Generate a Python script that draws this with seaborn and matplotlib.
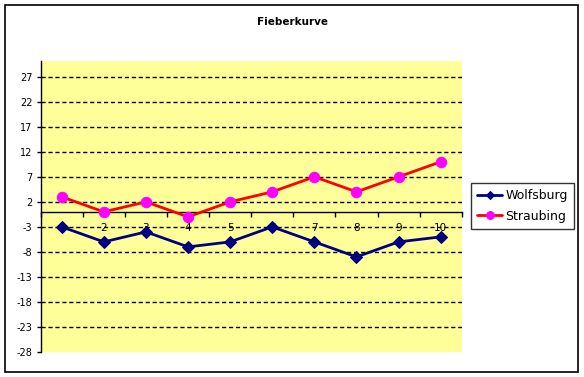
import matplotlib
matplotlib.use('Agg')
import matplotlib.pyplot as plt
import numpy as np
import pandas as pd
import seaborn as sns
from matplotlib.patches import Rectangle

sns.set_style('white')
plt.rcParams['font.family'] = ['DejaVu Sans']
plt.rcParams['text.color'] = 'black'
plt.rcParams['xtick.color'] = 'black'
plt.rcParams['ytick.color'] = 'black'

DAYS = [1, 2, 3, 4, 5, 6, 7, 8, 9, 10]
WOLFSBURG = [-3, -6, -4, -7, -6, -3, -6, -9, -6, -5]
STRAUBING = [3, 0, 2, -1, 2, 4, 7, 4, 7, 10]
Y_TICKS = [-28, -23, -18, -13, -8, -3, 2, 7, 12, 17, 22, 27]

W, H = 584, 377
fig = plt.figure(figsize=(W / 100, H / 100), dpi=100)
ax = fig.add_axes([40.7 / W, (H - 352) / H, 421 / W, 291.3 / H])
ax.set_facecolor('#FFFF99')

df = pd.DataFrame({'day': DAYS, 'Wolfsburg': WOLFSBURG, 'Straubing': STRAUBING})

sns.lineplot(data=df, x='day', y='Wolfsburg', ax=ax, color='#000080', lw=2,
             marker='D', markersize=6, markerfacecolor='#000080',
             markeredgecolor='#000080', label='Wolfsburg', zorder=5)
sns.lineplot(data=df, x='day', y='Straubing', ax=ax, color='#FF0000', lw=2,
             marker='o', markersize=7.5, markerfacecolor='#FF00FF',
             markeredgecolor='#FF00FF', label='Straubing', zorder=5)

ax.set_xlim(0.5, 10.5)
ax.set_ylim(-28, 30.2)
ax.set_xlabel('')
ax.set_ylabel('')

# gridlines
for y in Y_TICKS[1:]:
    ax.axhline(y, color='black', lw=1, ls=(0, (3, 2)), zorder=1)

for s in ['top', 'right']:
    ax.spines[s].set_visible(False)
ax.spines['bottom'].set_position(('data', 0))
ax.spines['bottom'].set_color('black')
ax.spines['bottom'].set_linewidth(1)
ax.spines['bottom'].set_zorder(2)
ax.spines['left'].set_color('black')
ax.spines['left'].set_linewidth(1)

ax.set_yticks(Y_TICKS)
ax.set_yticklabels([str(t) for t in Y_TICKS], fontsize=7)
ax.tick_params(axis='y', direction='out', length=3, width=1, pad=3, left=True)

ax.set_xticks(DAYS)
ax.set_xticklabels([str(d) for d in DAYS], fontsize=7.5)
ax.set_xticks(np.arange(0.5, 11, 1), minor=True)
ax.tick_params(axis='x', which='major', length=0, pad=8, bottom=True)
ax.tick_params(axis='x', which='minor', direction='out', length=3.5, width=1, bottom=True)
for lbl in ax.get_xticklabels():
    lbl.set_zorder(3)

leg = ax.legend(loc='upper left', bbox_to_anchor=((471 - 40.7) / 421, (352 - 183) / 291.3),
                frameon=True, fancybox=False, edgecolor='black', fontsize=9,
                handlelength=2.0, borderpad=0.5, labelspacing=0.6, handletextpad=0.25,
                borderaxespad=0, markerscale=0.75)
leg.get_frame().set_linewidth(1)

fig.text(292 / W, 1 - 22 / H, 'Fieberkurve', ha='center', va='center', fontsize=7.5,
         fontweight='bold')

fig.patches.append(Rectangle((5 / W, 1 - 372 / H), 573 / W, 367 / H, transform=fig.transFigure,
                             fill=False, edgecolor='black', lw=1.2))

fig.savefig('out.png', dpi=100)
